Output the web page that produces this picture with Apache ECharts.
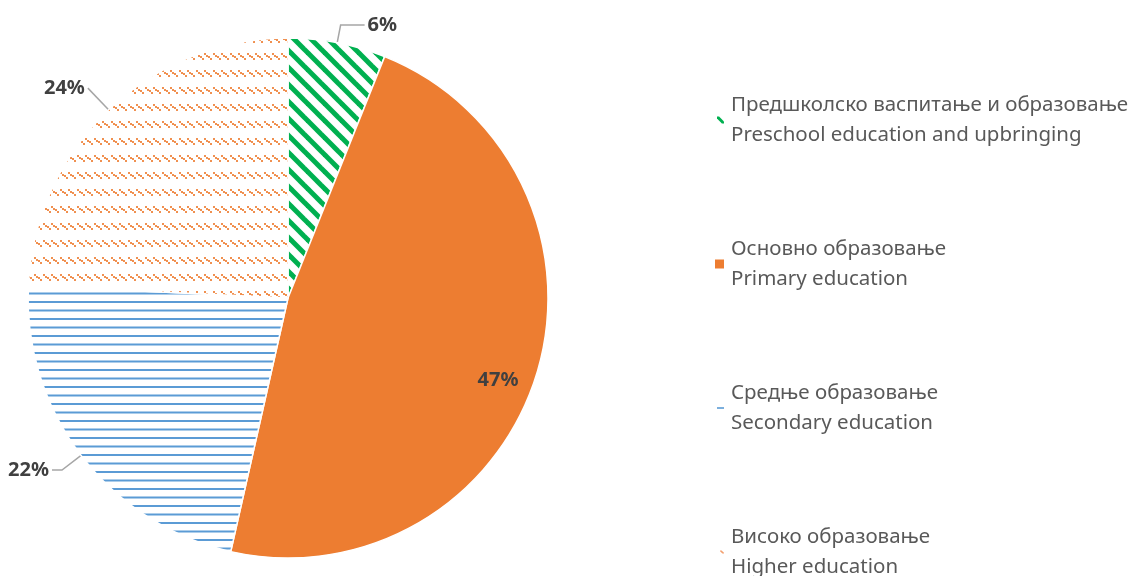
<!DOCTYPE html>
<html>
<head>
<meta charset="utf-8">
<script src="https://cdn.jsdelivr.net/npm/echarts@6/dist/echarts.min.js"></script>
<style>
html,body{margin:0;padding:0;background:#fff;}
#chart{width:1142px;height:576px;}
</style>
</head>
<body>
<div id="chart"></div>
<script>
// ---- data ----
const categoriesSr = ['Предшколско васпитање и образовање', 'Основно образовање', 'Средње образовање', 'Високо образовање'];
const categoriesEn = ['Preschool education and upbringing', 'Primary education', 'Secondary education', 'Higher education'];
const shares = [6, 47, 22, 24];

// ---- patterns ----
function makeCanvas(w, h) { const c = document.createElement('canvas'); c.width = w; c.height = h; return c; }
function greenStripes() {
  const s = 17, c = makeCanvas(s, s), g = c.getContext('2d');
  g.fillStyle = '#fff'; g.fillRect(0, 0, s, s);
  g.strokeStyle = '#00b050'; g.lineWidth = 5;
  for (const o of [-s, 0, s]) { g.beginPath(); g.moveTo(o - 2, -2); g.lineTo(o + s + 2, s + 2); g.stroke(); }
  return c;
}
function blueLines() {
  const w = 8, h = 17, c = makeCanvas(w, h), g = c.getContext('2d');
  g.fillStyle = '#fff'; g.fillRect(0, 0, w, h);
  g.fillStyle = '#5b9bd5';
  g.fillRect(0, 3.5, w, 2); g.fillRect(0, 12, w, 2);
  return c;
}
function orangeDots() {
  const w = 17, h = 17, c = makeCanvas(w, h), g = c.getContext('2d');
  g.fillStyle = '#fff'; g.fillRect(0, 0, w, h);
  g.fillStyle = 'rgba(237,125,49,0.85)';
  for (const x0 of [0, 8.5]) {
    for (let k = 0; k < 4; k++) g.fillRect(Math.round(x0 + k * 2), 2 + Math.round(k * 1.7), 2, 2);
  }
  return c;
}
const pGreen = { image: greenStripes(), repeat: 'repeat' };
const pBlue = { image: blueLines(), repeat: 'repeat' };
const pOrangeDots = { image: orangeDots(), repeat: 'repeat' };
const fills = [pGreen, '#ed7d31', pBlue, pOrangeDots];

const FONT = '"Noto Sans", sans-serif';

const pieData = shares.map((v, i) => {
  const d = { name: categoriesSr[i], value: v, itemStyle: { color: fills[i] } };
  if (i === 1) {
    d.label = { position: 'inside', offset: [83, 43] };
    d.labelLine = { show: false };
  }
  if (i === 0) d.labelLine = { length: 18, length2: 24 };
  if (i === 2) d.labelLine = { length: 24, length2: 10 };
  if (i === 3) d.labelLine = { length: 30, length2: 0 };
  return d;
});

// legend definitions
const legendIcons = [
  { icon: 'path://M0,0 L3,0 L10,7 L10,10 L7,10 L0,3 Z', w: 7, h: 7, color: '#00b050' },
  { icon: 'rect', w: 9, h: 9, color: '#ed7d31' },
  { icon: 'rect', w: 7, h: 1.6, color: '#5b9bd5' },
  { icon: 'path://M0,0 L2,0 L5,3 L5,4 L3,4 L0,1 Z', w: 4, h: 3.5, color: '#f4a070' }
];
const legendLine1Y = [103, 247, 391, 535];
const LH = 30;
const legends = legendIcons.map((ic, i) => ({
  orient: 'vertical',
  left: 731 - 5 - ic.w - 2,
  top: legendLine1Y[i] - LH - LH / 2 + 17,
  padding: 0,
  itemWidth: ic.w,
  itemHeight: ic.h,
  selectedMode: false,
  data: [{ name: categoriesSr[i], icon: ic.icon, itemStyle: { color: ic.color, borderWidth: 0 } }],
  formatter: (n) => n + '\n' + categoriesEn[categoriesSr.indexOf(n)],
  textStyle: { fontFamily: FONT, fontSize: 20.5, color: '#595959', lineHeight: LH, padding: [LH, 0, 0, 2] }
}));

const chart = echarts.init(document.getElementById('chart'), null, { renderer: 'canvas' });
chart.setOption({
  animation: false,
  backgroundColor: '#fff',
  legend: legends,
  series: [{
    type: 'pie',
    center: [288, 298],
    radius: 260,
    startAngle: 90,
    clockwise: true,
    itemStyle: { borderColor: '#fff', borderWidth: 1.5 },
    label: {
      show: true,
      position: 'outside',
      formatter: '{c}%',
      fontFamily: FONT,
      fontSize: 20,
      fontWeight: 'bold',
      color: '#404040',
      overflow: 'none',
      distanceToLabelLine: 3
    },
    labelLine: { show: true, length: 18, length2: 12, smooth: false, lineStyle: { color: '#a6a6a6', width: 1.5 } },
    emphasis: { disabled: true },
    data: pieData
  }]
});
</script>
</body>
</html>
